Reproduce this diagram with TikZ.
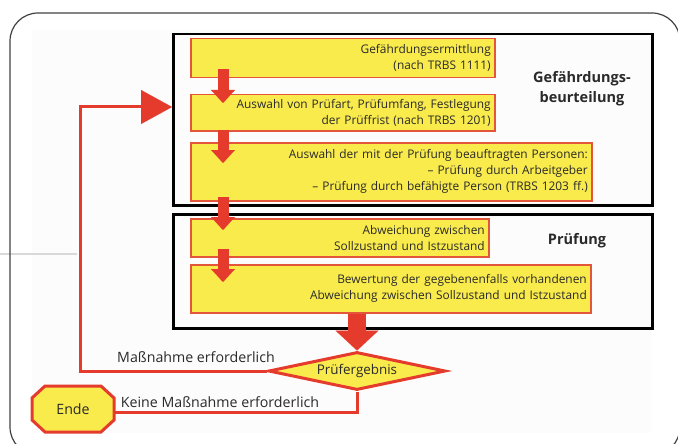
\documentclass[tikz,border=0pt]{standalone}
\usepackage{fontspec}
\setmainfont{Open Sans}
\usetikzlibrary{arrows.meta,shapes.geometric}
\definecolor{ylw}{HTML}{F9EB4C}
\definecolor{bred}{HTML}{E4563A}
\definecolor{ared}{HTML}{E53B2D}
\definecolor{txt}{HTML}{2A2A2A}
\definecolor{bggray}{HTML}{FCFCFC}
\begin{document}
\begin{tikzpicture}[x=1pt,y=-1pt,
  ybox/.style={draw=bred, fill=ylw, line width=1.5pt, align=right, anchor=north west,
    inner xsep=4pt, inner ysep=0pt, text=txt, font=\fontsize{11.9}{16}\selectfont},
  frame/.style={draw=black, line width=2.5pt, anchor=north west, inner sep=0pt},
  smallarr/.style={draw=ared, line width=11pt, -{Triangle[width=24pt,length=13pt,line width=0.1pt]}},
  bigarr/.style={draw=ared, line width=18pt, -{Triangle[width=43pt,length=20pt,line width=0.1pt]}},
  redline/.style={draw=ared, line width=3pt},
  grouplabel/.style={font=\bfseries\fontsize{14.5}{20}\selectfont, text=txt, align=center},
  plain/.style={font=\fontsize{14.2}{16}\selectfont, text=txt}]
\useasboundingbox (0,0) rectangle (678,444);
% background and outer frame
\fill[bggray] (32,30) rectangle (651,433);
\draw[gray!30, line width=1.5pt] (0,254) -- (77,254);
\draw[black!75, line width=1.2pt, rounded corners=28pt] (10,13) rectangle (680,455);
% group frames
\node[frame, minimum width=479, minimum height=171] (gb) at (172,33) {};
\node[frame, minimum width=479, minimum height=114] (pr) at (172,213) {};
\node[grouplabel] (gbl) at (582,89) {Gefährdungs-\\beurteilung};
\node[grouplabel] (prl) at (577,241) {Prüfung};
% yellow boxes
\node[ybox, text width=296, minimum height=39] (b1) at (190,38) {Gefährdungsermittlung\\(nach TRBS 1111)};
\node[ybox, text width=296, minimum height=36] (b2) at (190,94) {Auswahl von Prüfart, Prüfumfang, Festlegung\\der Prüffrist (nach TRBS 1201)};
\node[ybox, text width=393, minimum height=58] (b3) at (190,142) {Auswahl der mit der Prüfung beauftragten Personen:\\– Prüfung durch Arbeitgeber\\– Prüfung durch befähigte Person (TRBS 1203 ff.)};
\node[ybox, text width=290, minimum height=38] (b4) at (190,218) {Abweichung zwischen\\Sollzustand und Istzustand};
\node[ybox, text width=392, minimum height=48] (b5) at (190,264) {Bewertung der gegebenenfalls vorhandenen\\Abweichung zwischen Sollzustand und Istzustand};
% small arrows
\draw[smallarr] ([xshift=33pt,yshift=9pt]b1.south west) -- ([xshift=33pt,yshift=-9pt]b2.north west);
\draw[smallarr] ([xshift=33pt,yshift=2pt]b2.south west) -- ([xshift=33pt,yshift=-21pt]b3.north west);
\draw[smallarr] ([xshift=33pt,yshift=5pt]b3.south west) -- ([xshift=33pt,yshift=-12pt]b4.north west);
\draw[smallarr] ([xshift=33pt,yshift=9pt]b4.south west) -- ([xshift=33pt,yshift=-18pt]b5.north west);
% decision
\node[diamond, draw=ared, fill=ylw, line width=3pt, minimum width=177, minimum height=38,
  inner sep=0pt, aspect=4.6, plain, font=\fontsize{13.4}{16}\selectfont] (dia) at (357,371) {Prüfergebnis};
\draw[bigarr] (dia.north |- b5.south) -- (dia.north);
% loop back
\coordinate (lp) at (80,107);
\coordinate (tg) at ([yshift=-74pt]gb.north west);
\draw[redline, -{Triangle[width=34pt,length=31pt,line width=0.1pt]}] (dia.west) -| (lp) -- (tg);
\node[plain] (ml) at (196,357) {Maßnahme erforderlich};
% end
\coordinate (ec) at (73,409);
\draw[redline, fill=ylw] ([shift={(-28,-23)}]ec) -- ([shift={(28,-23)}]ec) -- ([shift={(41,-11)}]ec)
  -- ([shift={(41,11)}]ec) -- ([shift={(28,23)}]ec) -- ([shift={(-28,23)}]ec)
  -- ([shift={(-41,11)}]ec) -- ([shift={(-41,-11)}]ec) -- cycle;
\node[plain, minimum width=82, minimum height=46, inner sep=0pt] (ende) at (ec) {Ende};
\draw[redline] (dia.south) |- ([yshift=-3pt]ende.east);
\node[plain] (kl) at (220,402) {Keine Maßnahme erforderlich};
\end{tikzpicture}
\end{document}
